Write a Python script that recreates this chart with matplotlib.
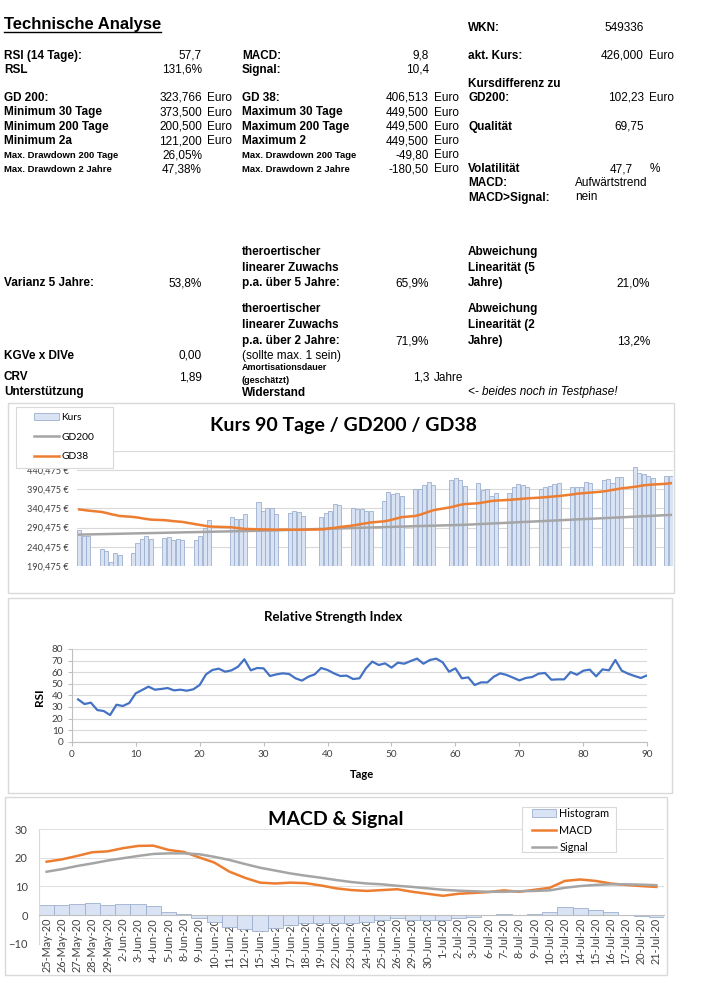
import matplotlib
matplotlib.use("Agg")
import matplotlib.pyplot as plt
import numpy as np
import pandas as pd
from matplotlib.lines import Line2D
from matplotlib.patches import Patch, Rectangle
from matplotlib.ticker import FuncFormatter

W, H = 706, 998

# Kurs 90 Tage / GD200 / GD38 (Handelstage, Feiertage ausgelassen)
holidays = ["2020-04-10", "2020-04-13", "2020-05-01", "2020-06-01"]
kurs_dates = pd.bdate_range("2020-03-11", "2020-07-21", freq="C", holidays=holidays)
kurs = [285.4, 268.0, 269.5,
        234.0, 229.0, 200.5, 225.0, 219.0,
        225.0, 251.5, 262.0, 269.0, 262.0,
        264.5, 266.0, 259.0, 260.0, 257.6,
        259.0, 269.0, 290.0, 310.7,
        317.0, 312.5, 314.0, 326.0,
        357.7, 333.0, 343.0, 343.0, 325.6,
        329.8, 334.0, 332.5, 321.0,
        317.0, 329.0, 333.0, 353.0, 350.0,
        343.0, 339.4, 338.6, 334.0, 335.0,
        360.3, 383.0, 377.8, 382.0, 374.3,
        392.6, 390.8, 401.0, 410.0, 403.0,
        416.0, 421.3, 416.0, 399.5,
        408.0, 390.0, 392.6, 373.5, 382.0,
        382.0, 397.0, 405.6, 403.0, 397.0,
        390.8, 397.0, 398.7, 405.6, 408.0,
        397.0, 397.8, 397.8, 410.9, 407.4,
        415.2, 418.7, 408.0, 423.7, 422.0,
        449.5, 434.3, 430.0, 426.5, 421.3,
        426.5, 426.0]
gd200 = [272.3, 272.6, 272.8,
         273.6, 273.8, 274.1, 274.3, 274.6,
         275.4, 275.6, 275.9, 276.1, 276.4,
         277.1, 277.4, 277.7, 277.9, 278.2,
         278.9, 279.1, 279.4, 279.7,
         280.9, 281.2, 281.4, 281.7,
         282.4, 282.7, 283.0, 283.3, 283.7,
         284.7, 285.1, 285.4, 285.8,
         287.1, 287.5, 287.8, 288.2, 288.5,
         289.5, 289.9, 290.2, 290.6, 290.9,
         291.9, 292.3, 292.6, 293.0, 293.3,
         294.3, 294.6, 295.0, 295.3, 295.7,
         296.9, 297.3, 297.6, 298.0,
         299.6, 300.2, 300.8, 301.3, 301.9,
         303.5, 304.1, 304.7, 305.3, 305.8,
         307.4, 308.0, 308.6, 309.1, 309.7,
         311.4, 312.0, 312.5, 313.1, 313.6,
         315.3, 315.8, 316.4, 317.0, 317.5,
         319.2, 319.8, 320.3, 320.9, 321.5,
         323.2, 323.8]
gd38 = [338.0, 336.5, 335.0,
        331.5, 329.0, 326.0, 323.5, 321.0,
        318.5, 317.0, 315.0, 313.0, 311.5,
        310.0, 309.0, 307.5, 306.5, 305.5,
        299.5, 297.5, 295.5, 293.5,
        291.5, 290.0, 288.5, 287.2,
        286.3, 286.0, 285.8, 285.6, 285.4,
        285.2, 285.0, 285.0, 285.2,
        286.0, 287.0, 289.0, 290.0, 292.0,
        296.0, 298.0, 300.0, 302.0, 304.0,
        307.0, 309.0, 312.0, 315.0, 318.0,
        321.0, 324.0, 328.0, 332.0, 336.0,
        344.0, 347.0, 350.0, 352.0,
        354.0, 356.0, 358.0, 360.0, 361.0,
        363.0, 364.0, 365.0, 366.0, 367.0,
        369.0, 370.0, 371.0, 372.0, 373.0,
        377.0, 379.0, 380.0, 381.0, 382.0,
        385.0, 387.0, 389.0, 391.0, 393.0,
        397.0, 399.0, 401.0, 402.0, 403.0,
        405.0, 406.5]

# Relative Strength Index, Tage 1..90
rsi = [36.5, 32.5, 33.7, 27.3, 26.5, 23.0, 31.9, 30.8, 33.4, 41.7,
       44.6, 47.5, 44.9, 45.5, 46.3, 44.3, 44.9, 44.0, 45.2, 48.9,
       58.1, 61.9, 63.0, 60.4, 61.6, 64.7, 71.1, 61.6, 63.6, 63.3,
       56.7, 58.1, 59.0, 58.4, 54.7, 52.7, 56.1, 58.1, 63.6, 61.9,
       59.0, 56.7, 57.0, 54.1, 54.7, 63.3, 69.1, 66.2, 67.6, 63.9,
       68.2, 67.3, 69.6, 71.7, 67.3, 70.5, 71.7, 68.5, 60.4, 63.3,
       54.7, 55.5, 48.9, 51.2, 51.2, 56.1, 59.0, 57.6, 55.3, 52.9,
       55.0, 55.8, 58.7, 59.3, 53.5, 53.8, 53.8, 60.1, 57.8, 61.3,
       62.2, 56.4, 62.4, 61.6, 70.5, 61.3, 58.7, 56.7, 55.0, 57.3]

# MACD & Signal
macd_dates = ["25-May-20", "26-May-20", "27-May-20", "28-May-20", "29-May-20",
              "2-Jun-20", "3-Jun-20", "4-Jun-20", "5-Jun-20", "8-Jun-20",
              "9-Jun-20", "10-Jun-20", "11-Jun-20", "12-Jun-20", "15-Jun-20",
              "16-Jun-20", "17-Jun-20", "18-Jun-20", "19-Jun-20", "22-Jun-20",
              "23-Jun-20", "24-Jun-20", "25-Jun-20", "26-Jun-20", "29-Jun-20",
              "30-Jun-20", "1-Jul-20", "2-Jul-20", "3-Jul-20", "6-Jul-20",
              "7-Jul-20", "8-Jul-20", "9-Jul-20", "10-Jul-20", "13-Jul-20",
              "14-Jul-20", "15-Jul-20", "16-Jul-20", "17-Jul-20", "20-Jul-20",
              "21-Jul-20"]
macd = [18.6, 19.4, 20.6, 21.9, 22.2, 23.3, 24.1, 24.2, 22.7, 22.0,
        20.1, 18.3, 15.1, 13.0, 11.3, 11.0, 11.3, 11.1, 10.3, 9.3,
        8.7, 8.4, 8.7, 9.0, 8.1, 7.4, 6.7, 7.4, 7.7, 8.0,
        8.6, 8.1, 8.8, 9.5, 11.9, 12.4, 11.9, 11.0, 10.5, 10.1, 9.8]
signal = [15.1, 16.0, 17.1, 18.0, 19.0, 19.8, 20.6, 21.3, 21.5, 21.5,
          21.2, 20.3, 19.2, 17.8, 16.5, 15.5, 14.5, 13.7, 13.0, 12.2,
          11.5, 11.0, 10.7, 10.2, 9.8, 9.3, 8.8, 8.5, 8.3, 8.1,
          8.1, 8.3, 8.4, 8.6, 9.5, 10.1, 10.5, 10.7, 10.7, 10.6, 10.4]
histogram = [3.5, 3.5, 3.9, 4.2, 3.6, 3.7, 3.7, 3.0, 1.2, 0.4,
             -1.2, -2.4, -4.3, -4.8, -5.5, -4.6, -3.4, -2.9, -2.9, -2.9,
             -2.7, -2.5, -1.9, -1.2, -1.6, -1.9, -1.9, -1.0, -0.6, -0.1,
             0.4, -0.1, 0.5, 0.9, 2.7, 2.4, 1.9, 1.1, -0.1, -0.4, -0.6]

ORANGE = "#ED7D31"
GREY = "#A5A5A5"
BLUE = "#4472C4"
BAR_FC = "#DAE3F3"
BAR_EC = "#9DB0CF"
GRID = "#D9D9D9"
TICK = "#404040"
CHART_FONT = ["Lato", "DejaVu Sans"]
SHEET_FONT = ["Liberation Sans", "DejaVu Sans"]

fig = plt.figure(figsize=(W / 100, H / 100), dpi=100)


def box(l, t, r, b):
    return [l / W, 1 - b / H, (r - l) / W, (b - t) / H]


def put(x, y, s, ha="left", size=8.5, weight="normal", style="normal", family=SHEET_FONT):
    return fig.text(x / W, 1 - y / H, s, ha=ha, va="center", fontsize=size,
                    fontweight=weight, fontstyle=style, family=family)


def frame(l, t, r, b, zorder=0):
    fig.add_artist(Rectangle((l / W, 1 - b / H), (r - l) / W, (b - t) / H,
                             transform=fig.transFigure, facecolor="none",
                             edgecolor=GRID, linewidth=1.0, zorder=zorder))


def euro(v, pos):
    # oberster Wert liegt unter der Legende
    if v > 480:
        return ""
    return f"{v:.3f}".replace(".", ",") + " €"


# ---- Tabelle oben ----
title = put(4, 24, "Technische Analyse", size=12, weight="bold")

rows_a = [(56, "RSI (14 Tage):", "57,7", ""), (70, "RSL", "131,6%", ""),
          (98, "GD 200:", "323,766", "Euro"), (112.5, "Minimum 30 Tage", "373,500", "Euro"),
          (126.7, "Minimum 200 Tage", "200,500", "Euro"), (141, "Minimum 2a", "121,200", "Euro")]
for y, lab, val, unit in rows_a:
    put(4, y, lab, weight="bold")
    put(202, y, val, ha="right")
    if unit:
        put(207, y, unit)
put(4, 155.5, "Max. Drawdown 200 Tage", size=6.8, weight="bold")
put(202, 155.5, "26,05%", ha="right")
put(4, 169.5, "Max. Drawdown 2 Jahre", size=6.8, weight="bold")
put(202, 169.5, "47,38%", ha="right")

rows_b = [(56, "MACD:", "9,8", ""), (70, "Signal:", "10,4", ""),
          (98, "GD 38:", "406,513", "Euro"), (112.5, "Maximum 30 Tage", "449,500", "Euro"),
          (126.7, "Maximum 200 Tage", "449,500", "Euro"), (141, "Maximum 2", "449,500", "Euro")]
for y, lab, val, unit in rows_b:
    put(242, y, lab, weight="bold")
    put(429, y, val, ha="right")
    if unit:
        put(434, y, unit)
put(242, 155.5, "Max. Drawdown 200 Tage", size=6.8, weight="bold")
put(429, 155.5, "-49,80", ha="right")
put(434, 155.5, "Euro")
put(242, 169.5, "Max. Drawdown 2 Jahre", size=6.8, weight="bold")
put(429, 169.5, "-180,50", ha="right")
put(434, 169.5, "Euro")

put(468, 28, "WKN:", weight="bold")
put(644, 28, "549336", ha="right")
put(468, 56, "akt. Kurs:", weight="bold")
put(644, 56, "426,000", ha="right")
put(649, 56, "Euro")
put(468, 84, "Kursdifferenz zu", weight="bold")
put(468, 98, "GD200:", weight="bold")
put(644, 98, "102,23", ha="right")
put(649, 98, "Euro")
put(468, 126.7, "Qualität", weight="bold")
put(644, 126.7, "69,75", ha="right")
put(468, 169.5, "Volatilität", weight="bold")
put(633, 169.5, "47,7", ha="right")
put(650, 169.5, "%")
put(468, 183.5, "MACD:", weight="bold")
put(575, 183.5, "Aufwärtstrend")
put(468, 197.5, "MACD>Signal:", weight="bold")
put(575, 197.5, "nein")

put(4, 283, "Varianz 5 Jahre:", weight="bold")
put(202, 283, "53,8%", ha="right")
for y, s in [(252, "theroertischer"), (268, "linearer Zuwachs"), (283, "p.a. über 5 Jahre:"),
             (309, "theroertischer"), (325, "linearer Zuwachs"), (341, "p.a. über 2 Jahre:")]:
    put(242, y, s, weight="bold")
put(429, 283, "65,9%", ha="right")
put(429, 341, "71,9%", ha="right")
for y, s in [(252, "Abweichung"), (268, "Linearität (5"), (283, "Jahre)"),
             (309, "Abweichung"), (325, "Linearität (2"), (341, "Jahre)")]:
    put(468, y, s, weight="bold")
put(650, 283, "21,0%", ha="right")
put(650, 341, "13,2%", ha="right")
put(4, 356, "KGVe x DIVe", weight="bold")
put(202, 356, "0,00", ha="right")
put(242, 356, "(sollte max. 1 sein)")
put(242, 367, "Amortisationsdauer", size=6.5, weight="bold")
put(242, 380.5, "(geschätzt)", size=6.5, weight="bold")
put(4, 377, "CRV", weight="bold")
put(202, 377, "1,89", ha="right")
put(429, 378, "1,3", ha="right")
put(434, 378, "Jahre")
put(4, 392, "Unterstützung", weight="bold")
put(242, 392.5, "Widerstand", weight="bold")
put(468, 392, "<- beides noch in Testphase!", style="italic")

# ---- Chart 1: Kurs ----
frame(8, 403, 674, 593)
ax1 = fig.add_axes(box(77, 451, 673, 566))
ax1.bar(kurs_dates, kurs, width=0.9, color=BAR_FC, edgecolor=BAR_EC, linewidth=0.6, zorder=2)
ax1.plot(kurs_dates, gd200, color=GREY, lw=1.8, zorder=3)
ax1.plot(kurs_dates, gd38, color=ORANGE, lw=1.8, zorder=3)
ax1.set_ylim(190.475, 490.475)
ax1.set_yticks(np.arange(190.475, 490.5, 50))
ax1.yaxis.set_major_formatter(FuncFormatter(euro))
ax1.set_xlim(kurs_dates[0] - pd.Timedelta(hours=12), kurs_dates[-1] + pd.Timedelta(hours=12))
ax1.set_xticks([])
ax1.grid(axis="y", color=GRID, lw=0.8, zorder=0)
ax1.set_axisbelow(True)
for sp in ax1.spines.values():
    sp.set_visible(False)
ax1.tick_params(axis="y", length=0, pad=6, labelsize=6.6, labelcolor=TICK)
for lab in ax1.get_yticklabels():
    lab.set_family(CHART_FONT)
fig.text(343 / W, 1 - 425 / H, "Kurs 90 Tage / GD200 / GD38", ha="center", va="center",
         fontsize=14, fontweight="bold", family=CHART_FONT)
fig.add_artist(Rectangle((16 / W, 1 - 468 / H), 97 / W, 61 / H, transform=fig.transFigure,
                         facecolor="white", edgecolor=GRID, linewidth=0.8, zorder=4))
leg1 = fig.legend([Patch(facecolor=BAR_FC, edgecolor=BAR_EC, linewidth=0.6),
                   Line2D([], [], color=GREY, lw=1.8), Line2D([], [], color=ORANGE, lw=1.8)],
                  ["Kurs", "GD200", "GD38"], loc="upper left",
                  bbox_to_anchor=(34 / W, 1 - 413 / H), frameon=False, borderpad=0,
                  borderaxespad=0, handlelength=2.4, handletextpad=0.25, labelspacing=1.0,
                  prop={"family": CHART_FONT, "size": 7.4})
leg1.set_zorder(5)

# ---- Chart 2: RSI ----
frame(8, 598, 672, 793)
ax2 = fig.add_axes(box(71.7, 649, 647.3, 741.7))
ax2.plot(np.arange(1, len(rsi) + 1), rsi, color=BLUE, lw=1.6)
ax2.set_xlim(0, 90)
ax2.set_ylim(0, 80)
ax2.set_xticks(np.arange(0, 91, 10))
ax2.set_yticks(np.arange(0, 81, 10))
ax2.grid(axis="y", color=GRID, lw=0.8)
ax2.set_axisbelow(True)
ax2.spines["top"].set_visible(False)
ax2.spines["right"].set_visible(False)
ax2.spines["left"].set_color("#BFBFBF")
ax2.spines["bottom"].set_color("#BFBFBF")
ax2.tick_params(length=3, color="#BFBFBF", labelsize=7.2, labelcolor=TICK, pad=3)
for lab in ax2.get_xticklabels() + ax2.get_yticklabels():
    lab.set_family(CHART_FONT)
fig.text(333 / W, 1 - 617 / H, "Relative Strength Index", ha="center", va="center",
         fontsize=9.5, fontweight="bold", family=CHART_FONT)
fig.text(39 / W, 1 - 697 / H, "RSI", ha="center", va="center", rotation=90,
         fontsize=8.5, fontweight="bold", family=CHART_FONT)
fig.text(362 / W, 1 - 774 / H, "Tage", ha="center", va="center",
         fontsize=8, fontweight="bold", family=CHART_FONT)

# ---- Chart 3: MACD ----
frame(5, 797, 667, 975)
ax3 = fig.add_axes(box(39, 829, 664, 943.7))
ax3.spines["bottom"].set_position(("data", 0))
x = np.arange(len(macd_dates))
ax3.bar(x, histogram, width=1.0, color=BAR_FC, edgecolor=BAR_EC, linewidth=0.6, zorder=2)
ax3.plot(x, macd, color=ORANGE, lw=1.8, zorder=3)
ax3.plot(x, signal, color=GREY, lw=1.8, zorder=3)
ax3.set_xlim(-0.5, len(macd_dates) - 0.5)
ax3.set_ylim(-10, 30)
ax3.set_yticks([-10, 0, 10, 20, 30])
ax3.set_xticks(x)
ax3.set_xticklabels(macd_dates, rotation=90, va="top", ha="center")
ax3.grid(axis="y", color=GRID, lw=0.6)
ax3.set_axisbelow(True)
ax3.spines["top"].set_visible(False)
ax3.spines["right"].set_visible(False)
ax3.spines["left"].set_color(GRID)
ax3.spines["bottom"].set_color("#BFBFBF")
ax3.tick_params(axis="x", length=0, pad=2, labelsize=7.8, labelcolor=TICK)
ax3.tick_params(axis="y", length=0, pad=8, labelsize=8, labelcolor=TICK)
for lab in ax3.get_xticklabels() + ax3.get_yticklabels():
    lab.set_family(CHART_FONT)
fig.text(336 / W, 1 - 819 / H, "MACD & Signal", ha="center", va="center",
         fontsize=14, fontweight="bold", family=CHART_FONT)
fig.add_artist(Rectangle((522 / W, 1 - 852 / H), 94 / W, 45 / H, transform=fig.transFigure,
                         facecolor="white", edgecolor=GRID, linewidth=0.8, zorder=4))
leg3 = fig.legend([Patch(facecolor=BAR_FC, edgecolor=BAR_EC, linewidth=0.6),
                   Line2D([], [], color=ORANGE, lw=1.8), Line2D([], [], color=GREY, lw=1.8)],
                  ["Histogram", "MACD", "Signal"], loc="upper left",
                  bbox_to_anchor=(532 / W, 1 - 808 / H), frameon=False, borderpad=0,
                  borderaxespad=0, handlelength=2.2, handletextpad=0.3, labelspacing=0.55,
                  prop={"family": CHART_FONT, "size": 7.8})
leg3.set_zorder(5)

# Unterstreichung des Titels
fig.canvas.draw()
bb = title.get_window_extent()
fig.add_artist(Line2D([bb.x0 / W, bb.x1 / W], [1 - 32.3 / H, 1 - 32.3 / H],
                      transform=fig.transFigure, color="black", lw=1.0))

fig.savefig("out.png", dpi=100)
